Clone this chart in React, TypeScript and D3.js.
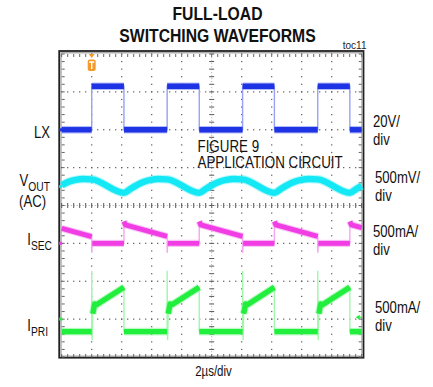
import React from "react";
import * as d3 from "d3";

// ---------- data ----------
const TITLE_LINES = ["FULL-LOAD", "SWITCHING WAVEFORMS"];
const TIME_LABEL = "2µs/div";
const TIME_DOMAIN: [number, number] = [0, 20]; // µs, 10 div x 2µs
const DIV_DOMAIN: [number, number] = [-4, 4]; // 8 vertical divisions

// LX switch node (V), 20V/div
const LX_POINTS: [number, number][] = [
  [0, 0], [2.0, 0], [2.0, 23], [4.15, 23], [4.15, 0],
  [7.03, 0], [7.03, 23], [9.17, 23], [9.17, 0],
  [12.06, 0], [12.06, 23], [14.18, 23], [14.18, 0],
  [17.07, 0], [17.07, 23], [19.21, 23], [19.21, 0], [20, 0],
];

// VOUT AC ripple (mV), 500mV/div
const VOUT_POINTS: [number, number][] = [
  [0, 16], [0.42, 60], [0.92, 88], [1.42, 99], [2.0, 95],
  [4.15, -83], [4.55, -35], [4.95, 12], [5.45, 60], [5.95, 88], [6.45, 99], [7.03, 95],
  [9.17, -83], [9.57, -35], [9.97, 12], [10.47, 60], [10.97, 88], [11.47, 99], [12.06, 95],
  [14.18, -83], [14.58, -35], [14.98, 12], [15.48, 60], [15.98, 88], [16.48, 99], [17.07, 95],
  [19.21, -83], [19.61, -35], [20, 10],
];

// Secondary current (mA), 500mA/div
const ISEC_POINTS: [number, number][] = [
  [0, 198], [2.0, 90], [2.0, -125], [2.04, 0], [4.15, 0],
  [4.15, 290], [4.25, 245], [7.03, 92], [7.03, -125], [7.07, 0], [9.17, 0],
  [9.17, 290], [9.27, 245], [12.06, 92], [12.06, -125], [12.1, 0], [14.18, 0],
  [14.18, 290], [14.28, 245], [17.07, 92], [17.07, -125], [17.11, 0], [19.21, 0],
  [19.21, 290], [19.31, 245], [20, 207],
];

// Primary current (mA), 500mA/div
const IPRI_POINTS: [number, number][] = [
  [0, -165], [2.0, -165], [2.0, 640], [2.03, -280], [2.07, 70], [2.2, 200], [2.32, 190], [4.15, 420], [4.15, -165],
  [7.03, -165], [7.03, 640], [7.06, -280], [7.1, 70], [7.23, 200], [7.35, 190], [9.17, 420], [9.17, -165],
  [12.06, -165], [12.06, 640], [12.09, -280], [12.13, 70], [12.26, 200], [12.38, 190], [14.18, 420], [14.18, -165],
  [17.07, -165], [17.07, 640], [17.1, -280], [17.14, 70], [17.27, 200], [17.39, 190], [19.21, 420], [19.21, -165],
  [20, -165],
];

const CH_NAMES = ["LX", "VOUT", "ISEC", "IPRI"];
const CH_OFFSETS_DIV = [2, 0.5, -1, -3];
const CH_PER_DIV = [20, 500, 500, 500];
const CH_SCALE_LABELS = [["20V/", "div"], ["500mV/", "div"], ["500mA/", "div"], ["500mA/", "div"]];
const TRIGGER_TIME = 2.0;
const TRIGGER_LEVEL_DIV = -2.95;

// ---------- styles / layout ----------
const W = 433;
const H = 387;
const X0 = 61.7, X1 = 361.7, Y0 = 54, Y1 = 357;
const FONT = "'Liberation Sans', Arial, sans-serif";
const CONDENSE = 0.82;
const CH_STYLE = [
  { core: "#1e34e4", halo: "#5a6cf0", edge: "#97a2f4", width: 6 },
  { core: "#14e8f4", halo: "#66f0f8", edge: "#9ef4f8", width: 7 },
  { core: "#f03de4", halo: "#f57cec", edge: "#f6a6f0", width: 5.5 },
  { core: "#22ee3e", halo: "#70f482", edge: "#a4f6ae", width: 6 },
];
const ORANGE = "#f59a2a";

function splitThick(pts: [number, number][]) {
  const segs: [number, number][][] = [];
  let cur: [number, number][] = [];
  for (let i = 0; i < pts.length; i++) {
    if (i > 0 && pts[i][0] - pts[i - 1][0] < 0.08) {
      if (cur.length > 1) segs.push(cur);
      cur = [pts[i]];
    } else cur.push(pts[i]);
  }
  if (cur.length > 1) segs.push(cur);
  return segs;
}

function NText(props: {
  x: number; y: number; size: number; anchor?: string; weight?: string; children: React.ReactNode;
}) {
  return (
    <g transform={`translate(${props.x},${props.y}) scale(${CONDENSE},1)`}>
      <text x={0} y={0} fontSize={props.size} textAnchor={props.anchor || "start"} fontWeight={props.weight || "normal"} fill="#111">
        {props.children}
      </text>
    </g>
  );
}

export default function App() {
  const x = d3.scaleLinear().domain(TIME_DOMAIN).range([X0, X1]);
  const yDiv = d3.scaleLinear().domain(DIV_DOMAIN).range([Y1, Y0]);
  const datas = [LX_POINTS, VOUT_POINTS, ISEC_POINTS, IPRI_POINTS];

  const minorX = d3.range(0, 20.0001, 0.4);
  const minorY = d3.range(-4, 4.0001, 0.2);
  const majorX = d3.range(2, 19, 2).filter((t) => t !== 10);
  const majorY = d3.range(-3, 4, 1).filter((d) => d !== 0);

  const grid: JSX.Element[] = [];
  majorX.forEach((t) =>
    minorY.forEach((d, j) =>
      grid.push(<rect key={`vx${t}-${j}`} x={x(t) - 0.6} y={yDiv(d) - 0.6} width={1.2} height={1.2} fill="#555" />)
    )
  );
  majorY.forEach((d) =>
    minorX.forEach((t, i) =>
      grid.push(<rect key={`hy${d}-${i}`} x={x(t) - 0.6} y={yDiv(d) - 0.6} width={1.2} height={1.2} fill="#555" />)
    )
  );
  minorX.forEach((t, i) =>
    grid.push(<line key={`cx${i}`} x1={x(t)} x2={x(t)} y1={yDiv(0) - 2.5} y2={yDiv(0) + 2.5} stroke="#555" strokeWidth={1} />)
  );
  minorY.forEach((d, j) =>
    grid.push(<line key={`cy${j}`} x1={x(10) - 2.5} x2={x(10) + 2.5} y1={yDiv(d)} y2={yDiv(d)} stroke="#555" strokeWidth={1} />)
  );
  grid.push(<line key="cxl" x1={X0} x2={X1} y1={yDiv(0)} y2={yDiv(0)} stroke="#888" strokeWidth={0.6} strokeDasharray="1.2 1.8" />);
  grid.push(<line key="cyl" x1={x(10)} x2={x(10)} y1={Y0} y2={Y1} stroke="#888" strokeWidth={0.6} strokeDasharray="1.2 1.8" />);
  minorX.forEach((t, i) => {
    grid.push(<line key={`bt${i}`} x1={x(t)} x2={x(t)} y1={Y0} y2={Y0 + 3} stroke="#666" strokeWidth={1} />);
    grid.push(<line key={`bb${i}`} x1={x(t)} x2={x(t)} y1={Y1 - 3} y2={Y1} stroke="#666" strokeWidth={1} />);
  });
  minorY.forEach((d, j) => {
    grid.push(<line key={`bl${j}`} x1={X0} x2={X0 + 3} y1={yDiv(d)} y2={yDiv(d)} stroke="#666" strokeWidth={1} />);
    grid.push(<line key={`br${j}`} x1={X1 - 3} x2={X1} y1={yDiv(d)} y2={yDiv(d)} stroke="#666" strokeWidth={1} />);
  });

  const traces = datas.map((pts, c) => {
    const toY = (v: number) => yDiv(CH_OFFSETS_DIV[c] + v / CH_PER_DIV[c]);
    const thin = d3.line<[number, number]>().x((p) => x(p[0])).y((p) => toY(p[1]));
    const thick = d3
      .line<[number, number]>()
      .x((p) => x(p[0]))
      .y((p) => toY(p[1]))
      .curve(c === 1 ? d3.curveMonotoneX : d3.curveLinear);
    const st = CH_STYLE[c];
    const segs = splitThick(pts);
    return (
      <g key={CH_NAMES[c]}>
        <path d={thin(pts) || ""} fill="none" stroke={st.edge} strokeWidth={1.4} />
        {segs.map((s, k) => (
          <path key={`h${k}`} d={thick(s) || ""} fill="none" stroke={st.halo} strokeOpacity={0.45} strokeWidth={st.width + 1.6} strokeLinejoin="round" />
        ))}
        {segs.map((s, k) => (
          <path key={`c${k}`} d={thick(s) || ""} fill="none" stroke={st.core} strokeWidth={st.width - 0.6} strokeLinejoin="round" />
        ))}
        <rect x={X0 - 2.5} y={yDiv(CH_OFFSETS_DIV[c]) - 1.5} width={3} height={3} fill={st.core} />
      </g>
    );
  });

  const tx = x(TRIGGER_TIME);
  const ty = yDiv(TRIGGER_LEVEL_DIV);

  const scaleLabelY = [127, 183, 237, 313];
  const scaleLabelX = [373, 375, 373, 375];

  return (
    <svg width={W} height={H} style={{ position: "absolute", left: 0, top: 0, background: "#fff" }} fontFamily={FONT}>
      <rect x={0} y={0} width={W} height={H} fill="#fff" />
      {/* title */}
      <NText x={217.5} y={20} size={19.2} anchor="middle" weight="bold">{TITLE_LINES[0]}</NText>
      <NText x={217.5} y={42} size={19.2} anchor="middle" weight="bold">{TITLE_LINES[1]}</NText>
      <text x={366.5} y={49} textAnchor="end" fontSize={10} fill="#222">toc11</text>

      {/* frame */}
      <rect x={59.2} y={51} width={304.3} height={306.7} fill="none" stroke="#222" strokeWidth={1.8} />
      <rect x={61} y={52.8} width={301} height={303.4} fill="none" stroke="#9a9a9a" strokeWidth={1.2} />
      {grid}

      {traces}

      {/* trigger marker */}
      <path d={`M${tx - 3},${54} L${tx + 3},${54} L${tx},${58} Z`} fill={ORANGE} />
      <rect x={tx - 4} y={59.5} width={8} height={11.5} rx={2} fill={ORANGE} />
      <path d={`M${tx - 2.6},${62} H${tx + 2.6} M${tx},${62} V${69}`} stroke="#fff" strokeWidth={1.4} fill="none" />
      {/* trigger level arrow */}
      <path d={`M${X1 - 6},${ty} L${X1 - 2},${ty - 2.5} L${X1 - 2},${ty + 2.5} Z`} fill={CH_STYLE[3].core} />
      <line x1={X1 - 3} x2={X1} y1={ty} y2={ty} stroke={CH_STYLE[3].core} strokeWidth={1.2} />

      {/* figure annotation */}
      <NText x={197.5} y={152} size={16.3}>FIGURE 9</NText>
      <NText x={197.5} y={168} size={16.3}>APPLICATION CIRCUIT</NText>

      {/* channel names */}
      <NText x={50} y={138} size={16} anchor="end">{CH_NAMES[0]}</NText>
      <NText x={50} y={186} size={16} anchor="end">
        V<tspan fontSize={12.5} dy={5}>OUT</tspan>
      </NText>
      <NText x={46} y={207} size={16} anchor="end">(AC)</NText>
      <NText x={52} y={245} size={16} anchor="end">
        I<tspan fontSize={12.5} dy={5}>SEC</tspan>
      </NText>
      <NText x={48} y={331} size={16} anchor="end">
        I<tspan fontSize={12.5} dy={5}>PRI</tspan>
      </NText>

      {/* scale labels */}
      {CH_SCALE_LABELS.map((lines, c) => (
        <g key={`sl${c}`}>
          <NText x={scaleLabelX[c]} y={scaleLabelY[c]} size={16}>{lines[0]}</NText>
          <NText x={scaleLabelX[c]} y={scaleLabelY[c] + 18} size={16}>{lines[1]}</NText>
        </g>
      ))}

      <NText x={213.5} y={376} size={14} anchor="middle">{TIME_LABEL}</NText>
    </svg>
  );
}
